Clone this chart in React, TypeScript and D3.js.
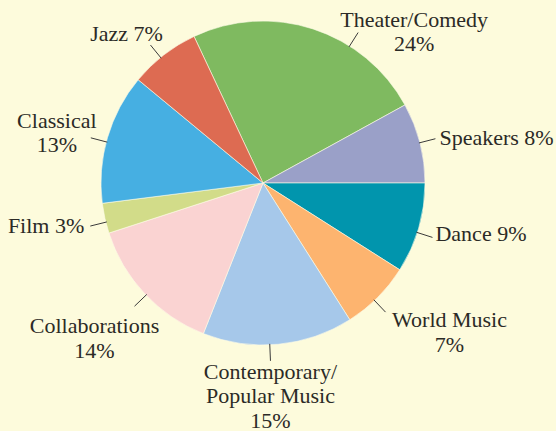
import * as d3 from "d3";

const categories = [
  "Theater/Comedy",
  "Speakers",
  "Dance",
  "World Music",
  "Contemporary/Popular Music",
  "Collaborations",
  "Film",
  "Classical",
  "Jazz",
];
const shares = [24, 8, 9, 7, 15, 14, 3, 13, 7];
const sliceColors = [
  "#7fba60",
  "#9aa0c8",
  "#0195ad",
  "#fdb46f",
  "#a6c8ea",
  "#fad3d2",
  "#d2dc89",
  "#46afe2",
  "#dd6b52",
];
const labelLines = [
  ["Theater/Comedy", "24%"],
  ["Speakers 8%"],
  ["Dance 9%"],
  ["World Music", "7%"],
  ["Contemporary/", "Popular Music", "15%"],
  ["Collaborations", "14%"],
  ["Film 3%"],
  ["Classical", "13%"],
  ["Jazz 7%"],
];

// label placement: leader angle (deg, clockwise from top), text offset from leader end
const labelLayout = [
  { angle: 32.3, dx: 56, dy: -6, anchor: "middle" },
  { angle: 75.6, dx: 4, dy: 6, anchor: "start" },
  { angle: 107.8, dx: 3, dy: 4, anchor: "start" },
  { angle: 136.5, dx: 64, dy: 15, anchor: "middle" },
  { angle: 177.6, dx: 0, dy: 18, anchor: "middle" },
  { angle: 226.2, dx: -40, dy: 27, anchor: "middle" },
  { angle: 256, dx: -6, dy: 7, anchor: "end" },
  { angle: 284.7, dx: -34, dy: -10, anchor: "middle" },
  { angle: 320.8, dx: -24, dy: -4, anchor: "middle" },
];

const width = 556;
const height = 431;
const cx = 263;
const cy = 183;
const radius = 162;
const lineGap = 24.5;

export default function App() {
  const data = categories.map((c, i) => ({ name: c, value: shares[i], i }));
  const start = (-25.2 * Math.PI) / 180;
  const pie = d3
    .pie<{ name: string; value: number; i: number }>()
    .sort(null)
    .value((d) => d.value)
    .startAngle(start)
    .endAngle(start + 2 * Math.PI);
  const arcs = pie(data);
  const arc = d3
    .arc<d3.PieArcDatum<{ name: string; value: number; i: number }>>()
    .innerRadius(0)
    .outerRadius(radius);

  const rad = d3.scaleLinear().domain([0, 360]).range([0, 2 * Math.PI]);
  const pt = (deg: number, r: number) => [
    cx + r * Math.sin(rad(deg)),
    cy - r * Math.cos(rad(deg)),
  ];

  return (
    <>
      <style>{"body{margin:0}"}</style>
      <svg width={width} height={height} style={{ display: "block" }}>
        <rect width={width} height={height} fill="#fdfbdc" />
        <g transform={`translate(${cx},${cy})`}>
          {arcs.map((a) => (
            <path
              key={a.data.name}
              d={arc(a) || ""}
              fill={sliceColors[a.data.i]}
              stroke="#fdfbe8"
              strokeWidth={0.6}
            />
          ))}
        </g>
        {labelLayout.map((l, i) => {
          const [x1, y1] = pt(l.angle, radius - 1);
          const [x2, y2] = pt(l.angle, radius + 16);
          return (
            <g key={categories[i]}>
              <line x1={x1} y1={y1} x2={x2} y2={y2} stroke="#3a3a3a" strokeWidth={1} />
              <text
                x={x2 + l.dx}
                y={y2 + l.dy}
                textAnchor={l.anchor}
                fontFamily="'Liberation Serif', 'DejaVu Serif', serif"
                fontSize={22}
                fill="#2b2a26"
              >
                {labelLines[i].map((t, j) => (
                  <tspan key={j} x={x2 + l.dx} dy={j === 0 ? 0 : lineGap}>
                    {t}
                  </tspan>
                ))}
              </text>
            </g>
          );
        })}
      </svg>
    </>
  );
}
